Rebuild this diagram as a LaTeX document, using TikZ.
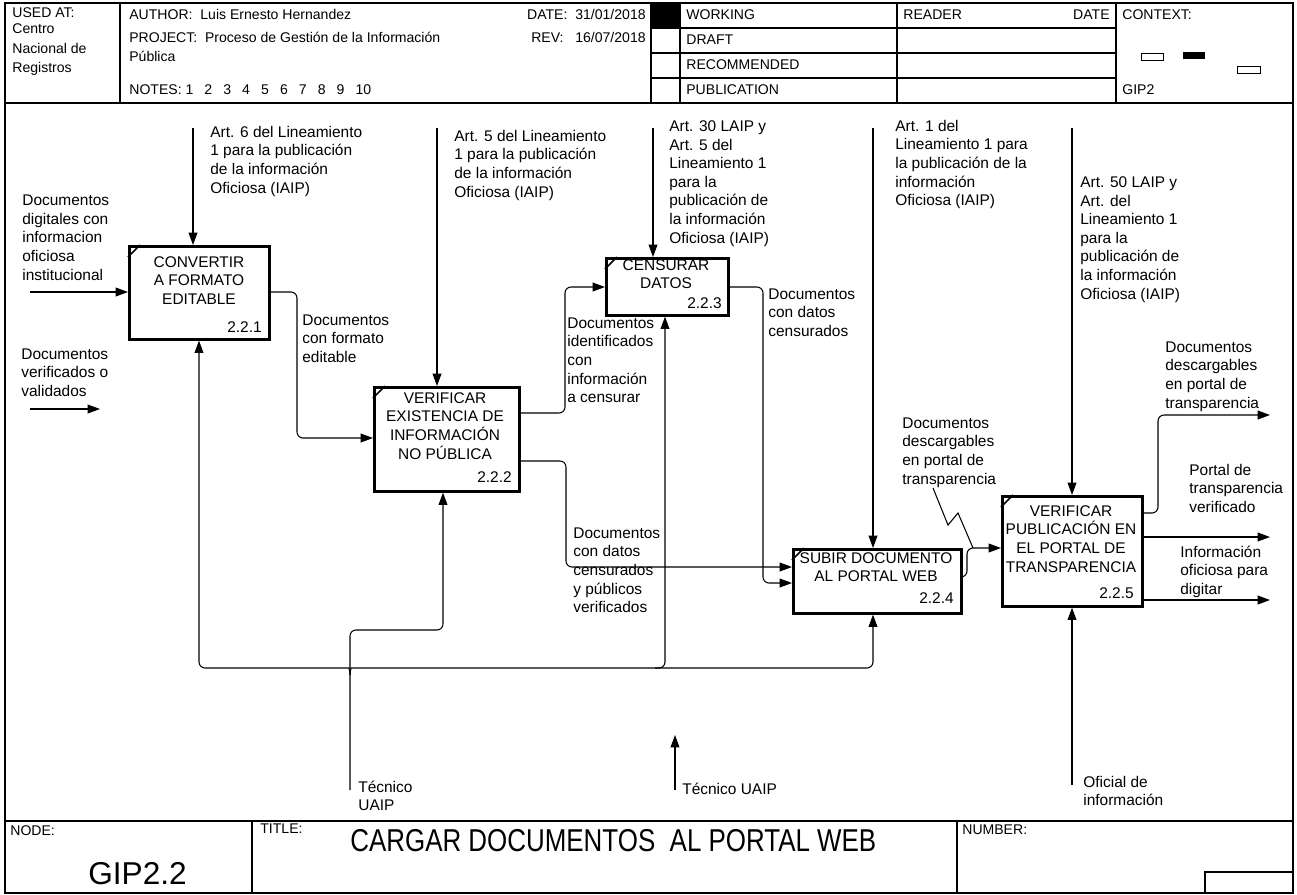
\documentclass[tikz,border=0pt]{standalone}
\usepackage{fontspec}
\setmainfont{Liberation Sans}
\newfontfamily\narrowfont[FakeStretch=0.82]{Liberation Sans}
\usetikzlibrary{arrows.meta,calc}
\begin{document}
\begin{tikzpicture}[x=0.02cm,y=-0.02cm,
 frame/.style={line width=0.8pt},
 thinline/.style={line width=0.5pt},
 box/.style={draw,line width=1.5pt,inner sep=0pt,anchor=north west},
 tick/.style={line width=0.9pt},
 arr/.style={line width=0.6pt,rounded corners=1.2mm,-{Triangle[length=7pt,width=5pt]}},
 ln/.style={line width=0.6pt,rounded corners=1.2mm},
 lbl/.style={font=\fontsize{8.8}{10.6}\selectfont,align=left,anchor=base west,inner sep=0pt},
 btxt/.style={font=\fontsize{8.8}{10.6}\selectfont,align=center,anchor=base,inner sep=0pt},
 num/.style={font=\fontsize{8.8}{10.6}\selectfont,anchor=base east,inner sep=0pt},
 hd/.style={font=\fontsize{8}{9.6}\selectfont,anchor=base west,inner sep=0pt},
 ft/.style={font=\fontsize{8}{9.6}\selectfont,anchor=base west,inner sep=0pt},
]
\useasboundingbox (0,0) rectangle (1297,894);
% ---------- frame ----------
\draw[frame] (5,3) rectangle (1293,893);
\draw[frame] (5,103) -- (1293,103);
\draw[frame] (5,821) -- (1293,821);
\draw[frame] (120,3) -- (120,103);
\draw[frame] (651,3) -- (651,103);
\draw[frame] (680,3) -- (680,103);
\draw[frame] (897,3) -- (897,103);
\draw[frame] (1116,3) -- (1116,103);
\draw[frame] (651,28) -- (1116,28);
\draw[frame] (651,53) -- (1116,53);
\draw[frame] (651,78) -- (1116,78);
\fill (651,3) rectangle (680,28);
\draw[frame] (252,821) -- (252,893);
\draw[frame] (957,821) -- (957,893);
\draw[frame] (1205,893) -- (1205,872) -- (1293,872);
% context marks
\draw[thinline] (1141,53) rectangle (1163,60);
\fill (1183,52) rectangle (1205,59);
\draw[thinline] (1237,66) rectangle (1260,73);
% ---------- header text ----------
\node[hd] (usedat) at (12,17) {USED AT:};
\node[hd] (centro) at (12,33) {Centro};
\node[hd] (nacional) at (12,53) {Nacional de};
\node[hd] (registros) at (12,72) {Registros};
\node[hd] (author) at (129,19) {AUTHOR:\ \ Luis Ernesto Hernandez};
\node[hd] (project) at (129,42) {PROJECT:\ \ Proceso de Gestión de la Información};
\node[hd] (publica) at (129,61) {Pública};
\node[hd] (notes) at (129,94) {NOTES:\ 1\hspace{6.3pt}2\hspace{6.3pt}3\hspace{6.3pt}4\hspace{6.3pt}5\hspace{6.3pt}6\hspace{6.3pt}7\hspace{6.3pt}8\hspace{6.3pt}9\hspace{6.3pt}10};
\node[hd,anchor=base east] (date) at (646,19) {DATE:\ \ 31/01/2018};
\node[hd,anchor=base east] (rev) at (646,42) {REV:\ \ \ 16/07/2018};
\node[hd] (working) at (686,19) {WORKING};
\node[hd] (draft) at (686,44) {DRAFT};
\node[hd] (recom) at (686,69) {RECOMMENDED};
\node[hd] (public) at (686,94) {PUBLICATION};
\node[hd] (reader) at (903,19) {READER};
\node[hd,anchor=base east] (rdate) at (1110,19) {DATE};
\node[hd] (context) at (1122,19) {CONTEXT:};
\node[hd] (gip2) at (1122,94) {GIP2};
% ---------- footer text ----------
\node[ft] (nodelbl) at (10,835) {NODE:};
\node[ft] (titlelbl) at (260,833) {TITLE:};
\node[ft] (numlbl) at (962,834) {NUMBER:};
\node[anchor=base west,inner sep=0pt,font=\fontsize{18}{20}\selectfont] (gip22) at (88,884) {GIP2.2};
\node[anchor=base west,inner sep=0pt,font=\fontsize{18}{20}\narrowfont] (title) at (350,851) {CARGAR DOCUMENTOS\ \ AL PORTAL WEB};
% ---------- boxes ----------
\node[box,minimum width=2.8cm,minimum height=1.86cm] (b1) at (128,245) {};
\node[box,minimum width=2.9cm,minimum height=2.08cm] (b2) at (373,386) {};
\node[box,minimum width=2.44cm,minimum height=1.14cm] (b3) at (605,257) {};
\node[box,minimum width=3.36cm,minimum height=1.28cm] (b4) at (792,548) {};
\node[box,minimum width=2.8cm,minimum height=2.2cm] (b5) at (1001,495) {};
\foreach \b in {b1,b2,b3,b4,b5}{
  \draw[tick] ($(\b.north west)+(0,12)$) -- ($(\b.north west)+(12,0)$);
}
% (multi-line nodes: base anchor = last line's baseline)
\node[btxt] (t1) at (199,304.4) {CONVERTIR\\A FORMATO\\EDITABLE};
\node[num] (n1) at (262,332) {2.2.1};
\node[btxt] (t2) at (445,459.1) {VERIFICAR\\EXISTENCIA DE\\INFORMACIÓN\\NO PÚBLICA};
\node[num] (n2) at (512,482) {2.2.2};
\node[btxt] (t3) at (666,288.7) {CENSURAR\\DATOS};
\node[num] (n3) at (722,308) {2.2.3};
\node[btxt] (t4) at (876,581.7) {SUBIR DOCUMENTO\\AL PORTAL WEB};
\node[num] (n4) at (954,603) {2.2.4};
\node[btxt] (t5) at (1071,572.1) {VERIFICAR\\PUBLICACIÓN EN\\EL PORTAL DE\\TRANSPARENCIA};
\node[num] (n5) at (1134,598) {2.2.5};
% ---------- labels ----------
\node[lbl] (lin1) at (22,280) {Documentos\\digitales con\\informacion\\oficiosa\\institucional};
\node[lbl] (lin2) at (21,396.4) {Documentos\\verificados o\\validados};
\node[lbl] (lc1) at (210,193.1) {Art. 6 del Lineamiento\\1 para la publicación\\de la información\\Oficiosa (IAIP)};
\node[lbl] (lc2) at (454,197.1) {Art. 5 del Lineamiento\\1 para la publicación\\de la información\\Oficiosa (IAIP)};
\node[lbl] (lc3) at (669,243.2) {Art. 30 LAIP y\\Art. 5 del\\Lineamiento 1\\para la\\publicación de\\la información\\Oficiosa (IAIP)};
\node[lbl] (lc4) at (895,205.8) {Art. 1 del\\Lineamiento 1 para\\la publicación de la\\información\\Oficiosa (IAIP)};
\node[lbl] (lc5) at (1080,299.2) {Art. 50 LAIP y\\Art. del\\Lineamiento 1\\para la\\publicación de\\la información\\Oficiosa (IAIP)};
\node[lbl] (lo1) at (302,362.4) {Documentos\\con formato\\editable};
\node[lbl] (lo2a) at (567,402.8) {Documentos\\identificados\\con\\información\\a censurar};
\node[lbl] (lo3) at (768,336.4) {Documentos\\con datos\\censurados};
\node[lbl] (lo2b) at (573,612.8) {Documentos\\con datos\\censurados\\y públicos\\verificados};
\node[lbl] (lo4) at (902,484.1) {Documentos\\descargables\\en portal de\\transparencia};
\node[lbl] (lo5a) at (1165,408.1) {Documentos\\descargables\\en portal de\\transparencia};
\node[lbl] (lo5b) at (1189,512.4) {Portal de\\transparencia\\verificado};
\node[lbl] (lo5c) at (1180,594.4) {Información\\oficiosa para\\digitar};
\node[lbl] (lm1) at (358,810.7) {Técnico\\UAIP};
\node[lbl] (lm2) at (682,794) {Técnico UAIP};
\node[lbl] (lm5) at (1083,805.7) {Oficial de\\información};
% ---------- free ends ----------
\coordinate (in1) at (30,292);
\coordinate (fa1) at (30,409);
\coordinate (fa2) at (100,409);
\coordinate (c1) at (193,128);
\coordinate (c2) at (437,128);
\coordinate (c3) at (653,128);
\coordinate (c4) at (873,128);
\coordinate (c5) at (1072,128);
\coordinate (out1) at (1270,415);
\coordinate (out2) at (1270,537);
\coordinate (out3) at (1270,600);
\coordinate (m1) at (350,790);
\coordinate (mj) at (350,675);
\coordinate (fm1) at (675,790);
\coordinate (fm2) at (675,735);
\coordinate (m5) at (1072,785);
\coordinate (sq1) at (933,488);
\coordinate (sq2) at (973,548);
% ---------- connectors ----------
\draw[arr] (in1) -- (b1.west |- in1);
\draw[arr] (fa1) -- (fa2);
\draw[arr] (c1) -- (b1.north -| c1);
\draw[arr] (c2) -- (b2.north -| c2);
\draw[arr] (c3) -- (b3.north -| c3);
\draw[arr] (c4) -- (b4.north -| c4);
\draw[arr] (c5) -- (b5.north -| c5);
\draw[arr] (b1.east |- 0,292) -- (297,292) -- (297,438) -- (b2.west |- 0,438);
\draw[arr] (b2.east |- 0,413) -- (565,413) -- (565,287) -- (b3.west |- 0,287);
\draw[arr] (b2.east |- 0,461) -- (566,461) -- (566,567) -- (b4.west |- 0,567);
\draw[arr] (b3.east |- 0,287) -- (763,287) -- (763,583) -- (b4.west |- 0,583);
\draw[arr] (b4.east |- 0,577) -- (967,577) -- (967,548) -- (b5.west |- 0,548);
\draw[arr] (b5.east |- 0,513) -- (1158,513) -- (1158,415) -- (out1);
\draw[arr] (b5.east |- out2) -- (out2);
\draw[arr] (b5.east |- out3) -- (out3);
\draw[line width=0.6pt] (sq1) -- (948,525) -- (958,513) -- (sq2);
% mechanisms
\draw[arr] (m1) -- (350,630) -- (443,630) -- (b2.south -| 443,0);
\draw[arr] (mj) .. controls (350,669) and (348,668) .. (343,668) -- (199,668) -- (b1.south -| 199,0);
\draw[arr] (mj) .. controls (350,669) and (352,668) .. (357,668) -- (873,668) -- (b4.south -| c4);
\draw[arr] (655,668) -- (665,668) -- (b3.south -| 665,0);
\draw[arr] (m5) -- (b5.south -| m5);
\draw[arr] (fm1) -- (fm2);
\end{tikzpicture}
\end{document}
